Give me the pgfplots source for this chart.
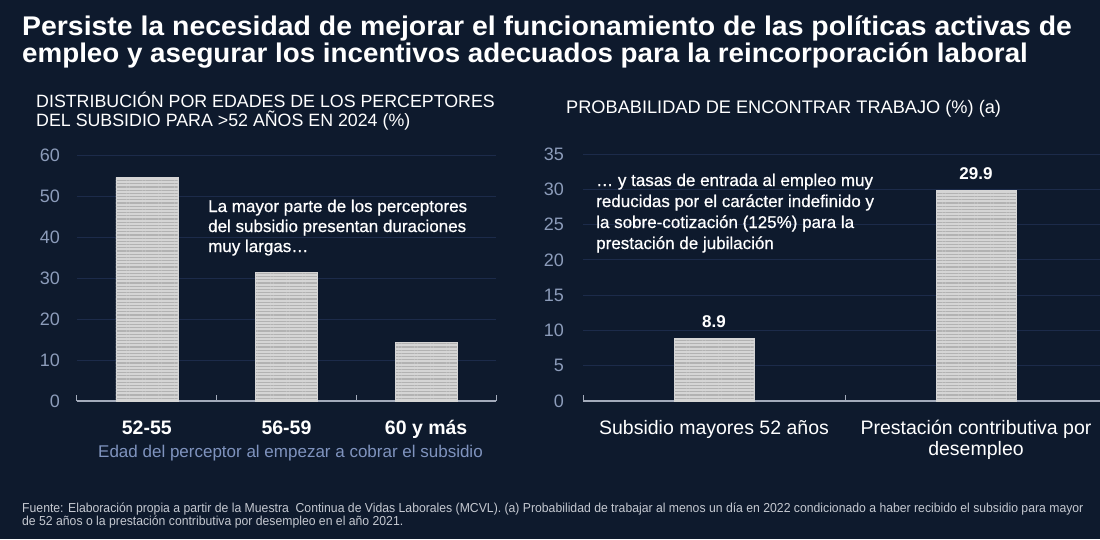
\documentclass[border=0pt]{standalone}
\usepackage{pgfplots}
\pgfplotsset{compat=1.18}
\usepackage{fontspec}
\usetikzlibrary{patterns.meta}
\setmainfont{Liberation Sans}
\newfontfamily\titlefont{Liberation Sans}[FakeStretch=1.028]
\newfontfamily\titlefontw{Liberation Sans}[FakeStretch=1.052]
\newfontfamily\medfont{Liberation Sans}[FakeBold=0.7]
\newfontfamily\footfont{Liberation Sans}[FakeStretch=0.94]

\definecolor{bg}{HTML}{0E1A2D}
\definecolor{gridc}{HTML}{1C2B4A}
\definecolor{axisc}{HTML}{A3ABBB}
\definecolor{ytc}{HTML}{8C9CBA}
\definecolor{xlabc}{HTML}{7F93BE}
\definecolor{barc}{HTML}{D5D5D5}
\definecolor{stripec}{HTML}{B2B2B2}
\definecolor{footc}{HTML}{C5C9D1}

\newcommand{\fs}[1]{\fontsize{#1}{#1}\selectfont}
% two centred lines whose baseline is that of the first line
\newcommand{\twolines}[2]{\begin{tabular}[t]{@{}c@{}}#1\\#2\end{tabular}}

% Distribution of recipients by age at entry (%)
\pgfplotstableread{
x  val
0  54.5
1  31.3
2  14.2
}\edades
% Probability of finding a job (%)
\pgfplotstableread{
x  val
0  8.9
1  29.9
}\prob

\pgfplotsset{
  panel/.style={
    scale only axis, anchor=south west, clip=false,
    axis x line*=bottom, axis y line*=left,
    y axis line style={draw=none},
    x axis line style={draw=axisc, line width=1.3pt},
    ymajorgrids, grid style={draw=gridc, line width=0.9pt},
    major tick length=0pt, minor tick length=6pt, tick align=inside,
    minor tick style={draw=axisc, line width=1pt},
    y tick label style={font=\fs{18}, color=ytc, anchor=east, inner sep=0pt},
    /pgf/number format/assume math mode=true,
  },
  stripedbar/.style={
    ybar, fill=barc, draw=barc, line width=0.6pt,
    postaction={pattern={Lines[angle=0,distance=3.2pt,line width=1.1pt]}, pattern color=stripec},
  },
}

\begin{document}
\begin{tikzpicture}
\useasboundingbox (0pt,0pt) rectangle (1100pt,-539pt);
\clip (0pt,0pt) rectangle (1100pt,-539pt);
\fill[bg] (0pt,0pt) rectangle (1100pt,-539pt);

% left panel
\begin{axis}[panel,
  at={(77pt,-401pt)}, width=419pt, height=246pt,
  xmin=-0.5, xmax=2.5, ymin=0, ymax=60,
  ytick={0,10,...,60},
  xtick={0,1,2}, xticklabels={52-55,56-59,60 y más},
  minor xtick={-0.5,0.5,1.5,2.5},
  x tick label style={font=\fs{19.5}\bfseries, color=white, anchor=base, yshift=-33pt, inner sep=0pt},
  y tick label style={xshift=-17pt},
  xlabel={Edad del perceptor al empezar a cobrar el subsidio},
  xlabel style={font=\fs{17}, color=xlabc, anchor=base, at={(axis description cs:0.5,0)}, yshift=-56pt, xshift=4pt, inner sep=0pt},
]
\addplot[stripedbar, bar width=62pt] table[x=x, y=val] {\edades};
\end{axis}

% right panel
\begin{axis}[panel,
  at={(583pt,-401pt)}, width=524pt, height=247pt,
  xmin=-0.5, xmax=1.5, ymin=0, ymax=35,
  ytick={0,5,...,35},
  xtick={0,1}, xticklabels={Subsidio mayores 52 años,{\twolines{Prestación contributiva por}{desempleo}}},
  minor xtick={-0.5,0.5,1.5},
  x tick label style={font=\fontsize{19.5}{21}\selectfont, color=white, anchor=base, yshift=-33pt, inner sep=0pt},
  y tick label style={xshift=-19pt},
  /pgf/number format/fixed, /pgf/number format/precision=1,
  nodes near coords,
  nodes near coords style={font=\fs{17}\bfseries, color=white, anchor=base, yshift=11pt, inner sep=0pt},
]
\addplot[stripedbar, bar width=80pt] table[x=x, y=val] {\prob};
\end{axis}

\begin{scope}[x=1pt,y=-1pt]
  % headline
  \node[anchor=base west, inner sep=0pt, text=white, font=\titlefontw\bfseries\fs{27}] at (22,35)
    {Persiste la necesidad de mejorar el funcionamiento de las políticas activas de};
  \node[anchor=base west, inner sep=0pt, text=white, font=\titlefont\bfseries\fs{27}] at (22,62)
    {empleo y asegurar los incentivos adecuados para la reincorporación laboral};
  % panel titles
  \node[anchor=base west, inner sep=0pt, text=white, font=\fs{17.8}] at (36,107)
    {DISTRIBUCIÓN POR EDADES DE LOS PERCEPTORES};
  \node[anchor=base west, inner sep=0pt, text=white, font=\fs{17.8}] at (36,126)
    {DEL SUBSIDIO PARA >52 AÑOS EN 2024 (\%)};
  \node[anchor=base west, inner sep=0pt, text=white, font=\fs{18.2}] at (566,113)
    {PROBABILIDAD DE ENCONTRAR TRABAJO (\%) (a)};
  % comments inside the panels
  \begin{scope}[every node/.style={anchor=base west, inner sep=0pt, text=white, font=\medfont\fs{17}}]
    \node at (208,212) {La mayor parte de los perceptores};
    \node at (208,232) {del subsidio presentan duraciones};
    \node at (208,252) {muy largas…};
    \node at (596,186) {… y tasas de entrada al empleo muy};
    \node at (596,207) {reducidas por el carácter indefinido y};
    \node at (596,228) {la sobre-cotización (125\%) para la};
    \node at (596,249) {prestación de jubilación};
  \end{scope}
  % source note
  \node[anchor=base west, inner sep=0pt, text=footc, font=\footfont\fs{13}] at (22,512)
    {Fuente: Elaboración propia a partir de la Muestra\ \ Continua de Vidas Laborales (MCVL). (a) Probabilidad de trabajar al menos un día en 2022 condicionado a haber recibido el subsidio para mayor};
  \node[anchor=base west, inner sep=0pt, text=footc, font=\footfont\fs{13}] at (22,525)
    {de 52 años o la prestación contributiva por desempleo en el año 2021.};
\end{scope}
\end{tikzpicture}
\end{document}
